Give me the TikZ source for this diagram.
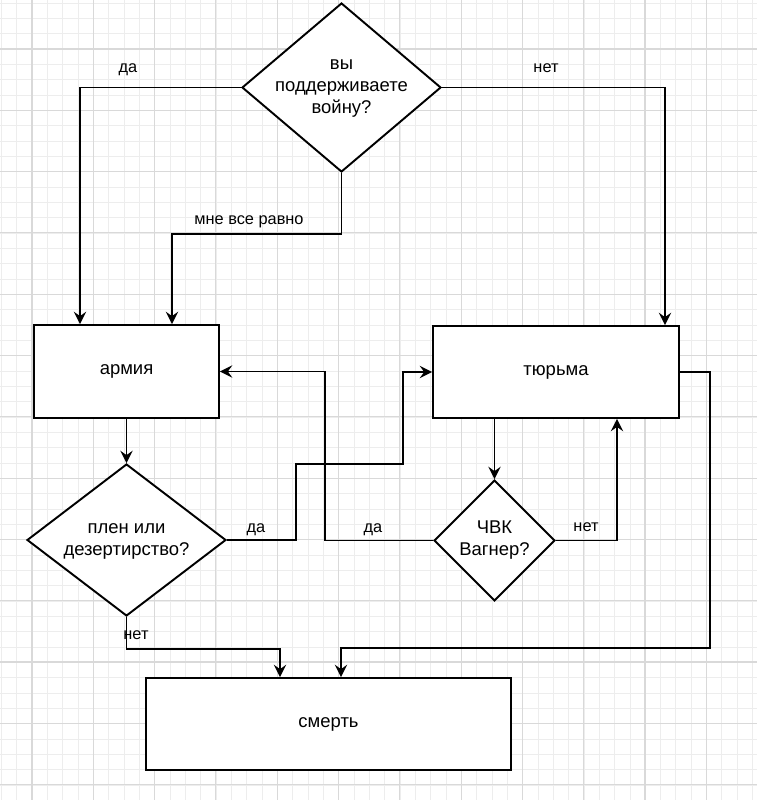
\documentclass[tikz,border=0pt]{standalone}
\usepackage{fontspec}
\setmainfont{Liberation Sans}
\usetikzlibrary{shapes.geometric,arrows.meta}

\newcommand{\dtext}[1]{\makebox[0pt]{\begin{tabular}{@{}c@{}}#1\end{tabular}}}

\tikzset{
  block/.style={draw, fill=white, line width=1.1pt, font=\fontsize{10.5}{12.5}\selectfont},
  decision/.style={diamond, draw, fill=white, line width=1.1pt, inner sep=0pt, font=\fontsize{10.5}{12.5}\selectfont},
  flow/.style={line width=1.1pt, -{Stealth[length=7pt,width=7pt,inset=2.5pt]}},
  lbl/.style={font=\fontsize{9.3}{11}\selectfont, anchor=base, inner sep=0pt},
  minorline/.style={black!7, line width=0.5pt},
  majorline/.style={black!15, line width=0.6pt},
}

\begin{document}
\begin{tikzpicture}[x=0.02cm,y=-0.02cm]
\useasboundingbox (0,0) rectangle (757,800);
\fill[white] (0,0) rectangle (757,800);

% grid
\foreach \i in {0,...,49} \draw[minorline] ({1.4+15.33*\i},0) -- ({1.4+15.33*\i},800);
\foreach \j in {0,...,51} \draw[minorline] (0,{3.1+15.33*\j}) -- (757,{3.1+15.33*\j});
\foreach \k in {0,...,11} \draw[majorline] ({32+61.3*\k},0) -- ({32+61.3*\k},800);
\foreach \k in {0,...,12} \draw[majorline] (0,{49+61.3*\k}) -- (757,{49+61.3*\k});

% shapes
\node[decision, minimum width=3.98cm, minimum height=3.38cm] (war) at (341.5,87.5) {\dtext{вы\\поддерживаете\\войну?}};
\node[block, minimum width=3.7cm, minimum height=1.86cm] (army) at (126.5,371.5) {армия};
\node[block, minimum width=4.92cm, minimum height=1.84cm] (jail) at (556,372) {тюрьма};
\node[decision, minimum width=3.98cm, minimum height=3.04cm] (desert) at (126.5,540) {\dtext{плен или\\дезертирство?}};
\node[decision, minimum width=2.42cm, minimum height=2.42cm] (pmc) at (494.5,540.5) {\dtext{ЧВК\\Вагнер?}};
\node[block, minimum width=7.3cm, minimum height=1.84cm] (death) at (328.5,724) {смерть};

% connectors
\draw[flow] (war.west) -| ([xshift=-0.93cm]army.north);
\draw[flow] (war.south) -- ++(0,61) -| ([xshift=0.91cm]army.north);
\draw[flow] (war.east) -| ([xshift=2.18cm]jail.north);
\draw[flow] (army.south) -- (desert.north);
\draw[flow] (desert.east) -- ++(69,0) -- ++(0,-76) -- ++(107,0) |- (jail.west);
\draw[flow] (jail.south -| pmc.north) -- (pmc.north);
\draw[flow] (pmc.west) -- ++(-108,0) |- (army.east);
\draw[flow] (pmc.east) -| ([xshift=1.22cm]jail.south);
\draw[flow] (jail.east) -- ++(30,0) -- ++(0,276) -| ([xshift=0.25cm]death.north);
\draw[flow] (desert.south) -- ++(0,32) -| ([xshift=-0.97cm]death.north);

% labels
\node[lbl] (l-yes) at (128,73) {да};
\node[lbl] (l-no) at (546,73) {нет};
\node[lbl] (l-care) at (249,225) {мне все равно};
\node[lbl] (l-desyes) at (256,532) {да};
\node[lbl] (l-pmcyes) at (373,532) {да};
\node[lbl] (l-pmcno) at (586,531) {нет};
\node[lbl] (l-desno) at (136,639) {нет};
\end{tikzpicture}
\end{document}
